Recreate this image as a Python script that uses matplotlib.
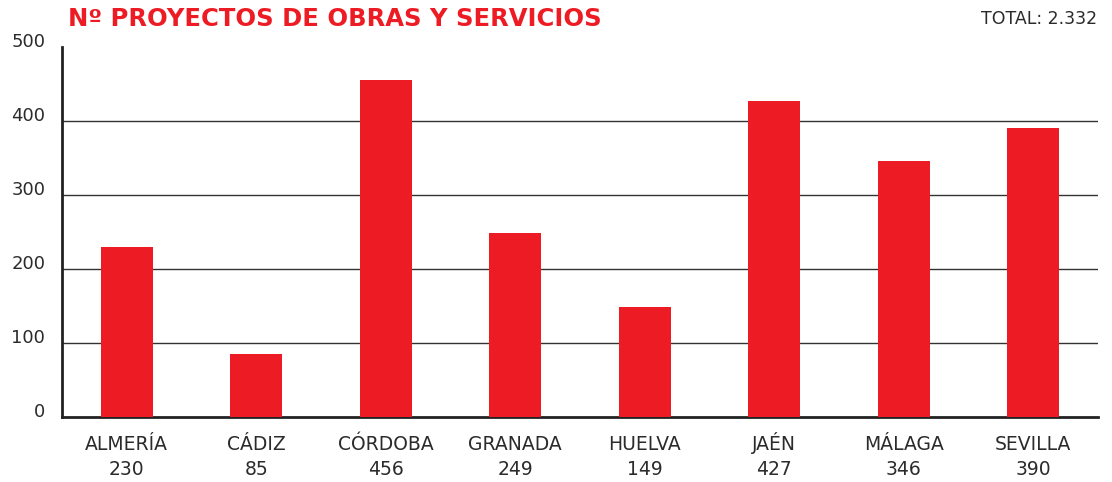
import matplotlib
matplotlib.use("Agg")
import matplotlib.pyplot as plt
from matplotlib.transforms import ScaledTranslation, blended_transform_factory

provinces = ["ALMERÍA", "CÁDIZ", "CÓRDOBA", "GRANADA", "HUELVA", "JAÉN", "MÁLAGA", "SEVILLA"]
projects = [230, 85, 456, 249, 149, 427, 346, 390]
yticks = [0, 100, 200, 300, 400, 500]
title = "Nº PROYECTOS DE OBRAS Y SERVICIOS"
total_label = "TOTAL: 2.332"

RED = "#ED1C24"
TXT = "#2b2b2b"

fig = plt.figure(figsize=(11.12, 4.82), dpi=100)
ax = fig.add_axes([62/1112, 1-417/482, (1098-62)/1112, (417-47)/482])

x = list(range(len(provinces)))
ax.bar(x, projects, width=0.40, color=RED, zorder=3)
ax.set_xlim(-0.5, 7.5)
ax.set_ylim(0, 500)

for v in yticks[1:-1]:
    ax.axhline(v, color="#333333", lw=1.0, zorder=1)

for s in ["top", "right"]:
    ax.spines[s].set_visible(False)
ax.spines["left"].set_linewidth(2)
ax.spines["bottom"].set_linewidth(2)
ax.spines["left"].set_color("#222222")
ax.spines["bottom"].set_color("#222222")

ax.set_yticks(yticks)
ax.set_yticklabels([str(v) for v in yticks], fontsize=13, color=TXT)
ax.tick_params(axis="y", length=0, pad=12)
off = ScaledTranslation(0, 5/72, fig.dpi_scale_trans)
for lab in ax.get_yticklabels():
    lab.set_transform(lab.get_transform() + off)

ax.set_xticks(x)
ax.set_xticklabels([])
ax.tick_params(axis="x", length=0)
tr = blended_transform_factory(ax.transData, fig.transFigure)
for xi, p, v in zip(x, provinces, projects):
    ax.text(xi, 1-450/482, p, transform=tr, ha="center", va="baseline",
            fontsize=13.5, color=TXT)
    ax.text(xi, 1-475/482, str(v), transform=tr, ha="center", va="baseline",
            fontsize=13.5, color=TXT)

fig.text(68/1112, 1-19/482, title, fontsize=17.5, fontweight="bold", color=RED,
         va="center", ha="left")
fig.text(1097/1112, 1-19/482, total_label, fontsize=12.5, color=TXT,
         va="center", ha="right")

fig.savefig("out.png", dpi=100)
